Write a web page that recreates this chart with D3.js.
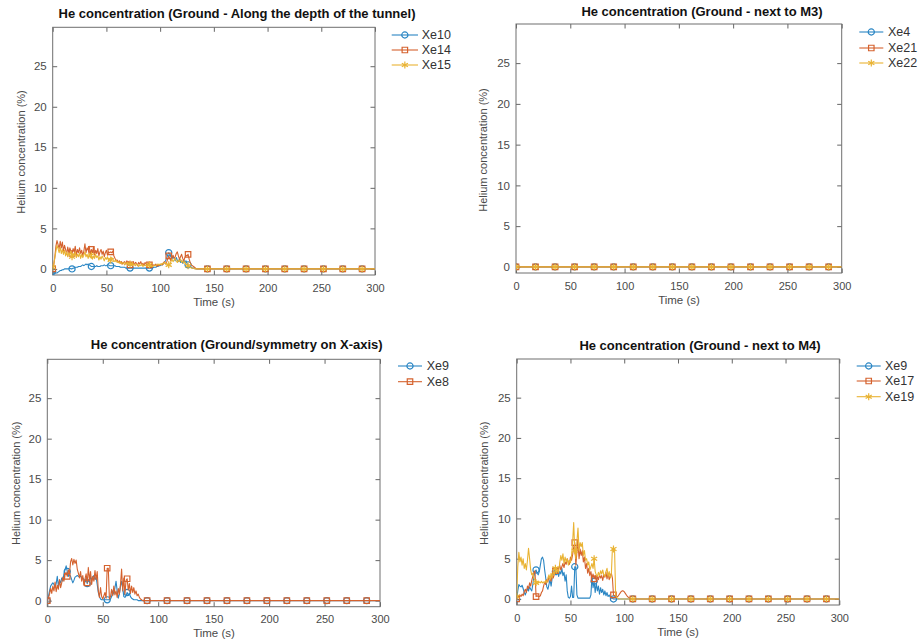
<!DOCTYPE html>
<html><head><meta charset="utf-8">
<script src="https://cdn.jsdelivr.net/npm/d3@7"></script>
<style>
body{margin:0;background:#fff}
svg{display:block}
text{font-family:"Liberation Sans",Arial,Helvetica,sans-serif}
</style>
</head><body>
<svg id="c" width="919" height="639"></svg>
<script>
// ---------- shared axis data ----------
const X_TICKS = [0, 50, 100, 150, 200, 250, 300];
const Y_TICKS = [0, 5, 10, 15, 20, 25];
const X_DOMAIN = [0, 300];
const Y_DOMAIN = [-0.75, 29.8];
const STEP = 1;          // sampling interval of the value arrays (s)
const T_END = 300;       // last recorded time (s)
const TAIL_VALUE = 0;    // concentration after the plume has passed
const MARKER_TIMES = [0, 18, 36, 54, 72, 90, 108, 126, 144, 162, 180, 198, 216, 234, 252, 270, 288];
const X_LABEL = "Time (s)";
const Y_LABEL = "Helium concentration (%)";
const TITLES = [
  "He concentration (Ground - Along the depth of the tunnel)",
  "He concentration (Ground - next to M3)",
  "He concentration (Ground/symmetry on X-axis)",
  "He concentration (Ground - next to M4)"
];

// ---------- panel 1 ----------
const p1Names = ["Xe10", "Xe14", "Xe15"];
const p1Xe10 = [-0.3,-0.4,-0.5,-0.5,-0.5,-0.4,-0.3,-0.2,-0.2,-0.1,
 -0.1,0,0,0,0,0,0.1,0,0,0.1,
 0.1,0.2,0.2,0.2,0.3,0.3,0.3,0.4,0.5,0.4,
 0.5,0.6,0.5,0.6,0.5,0.4,0.3,0.3,0.3,0.3,
 0.3,0.4,0.3,0.3,0.3,0.4,0.4,0.4,0.5,0.4,
 0.4,0.5,0.5,0.4,0.4,0.4,0.4,0.4,0.4,0.3,
 0.3,0.3,0.3,0.2,0.2,0.2,0.2,0.2,0.1,0.1,
 0.1,0.1,0.1,0.1,0.1,0.1,0.1,0.1,0.1,0.1,
 0.1,0.1,0.1,0.1,0.1,0.1,0.1,0.1,0.1,0.1,
 0.1,0.1,0.1,0.1,0.2,0.2,0.2,0.3,0.3,0.4,
 0.4,0.5,0.5,0.6,0.8,1.0,1.3,1.7,2.0,1.8,
 1.5,1.2,1.6,1.3,1.0,1.4,1.1,0.9,1.2,0.8,
 1.0,0.7,1.1,0.8,1.0,0.7,0.5,0.3,0.2,0.2,
 0.1,0.1,0.1,0,0,0];
const p1Xe14 = [0,0.5,1.5,2.8,3.5,3.0,2.5,3.4,2.6,3.3,
 2.2,2.9,2.4,1.8,2.7,2.0,2.6,2.2,1.9,2.5,
 2.1,2.8,1.7,2.4,2.0,2.6,1.9,2.3,1.6,2.2,
 3.1,2.0,2.6,2.3,2.8,1.8,2.4,2.0,2.7,1.7,
 2.3,1.9,2.5,1.6,2.1,2.4,1.8,2.2,1.5,2.0,
 2.3,1.7,2.1,2.0,2.1,2.0,2.2,1.6,1.3,1.0,
 1.1,0.8,1.0,0.7,0.9,0.6,0.8,0.9,0.6,1.0,
 0.7,0.9,0.5,0.8,0.6,0.9,0.5,0.8,0.7,0.4,
 0.8,0.6,0.9,0.5,0.7,0.4,0.8,0.6,0.3,0.7,
 0.5,0.4,0.6,0.3,0.5,0.4,0.6,0.3,0.5,0.4,
 0.5,0.6,0.5,0.7,0.9,0.6,0.8,1.2,1.6,1.3,
 1.0,1.4,1.7,1.3,1.5,1.9,2.1,1.6,1.2,1.5,
 1.8,1.3,1.0,1.4,1.7,1.6,1.8,1.2,0.8,0.5,
 0.4,0.3,0.2,0.1,0,0];
const p1Xe15 = [0.2,0.6,1.4,2.2,2.9,2.5,2.0,2.7,1.9,2.4,
 1.8,2.3,1.6,2.1,1.5,2.0,1.7,2.2,1.5,1.9,
 1.6,2.1,1.4,1.8,1.5,2.0,1.3,1.8,1.4,1.7,
 2.1,1.5,1.8,1.3,1.9,1.4,1.7,1.2,1.6,1.3,
 1.8,1.4,1.6,1.1,1.5,1.2,1.6,1.3,1.0,1.4,
 1.2,1.5,1.0,1.3,1.1,1.4,1.2,1.0,0.9,1.1,
 0.8,0.9,0.7,0.9,0.6,0.8,0.7,0.5,0.8,0.6,
 0.7,0.5,0.6,0.4,0.7,0.5,0.6,0.4,0.6,0.5,
 0.3,0.5,0.4,0.6,0.3,0.5,0.4,0.5,0.3,0.4,
 0.5,0.3,0.4,0.3,0.4,0.5,0.4,0.5,0.6,0.5,
 0.6,0.5,0.7,0.6,0.8,0.7,0.6,0.5,0.5,0.6,
 0.9,1.2,0.9,1.1,1.3,1.0,0.8,1.1,0.9,1.2,
 0.8,1.0,0.7,0.9,0.6,0.5,0.4,0.3,0.2,0.1,
 0.1,0.1,0,0,0,0];

// ---------- panel 2 ----------
const p2Names = ["Xe4", "Xe21", "Xe22"];
const p2Xe4 = [0, 0];
const p2Xe21 = [0, 0];
const p2Xe22 = [0, 0];

// ---------- panel 3 ----------
const p3Names = ["Xe9", "Xe8"];
const p3Xe9 = [0,0.5,1.2,1.8,2.0,2.2,2.0,1.6,2.1,3.0,
 1.8,2.5,2.2,2.8,2.4,3.3,3.8,4.3,3.6,3.0,
 3.2,3.0,2.6,2.2,2.5,2.9,3.0,3.1,3.0,2.9,
 3.0,2.9,2.8,2.6,2.3,2.8,2.1,2.6,2.3,3.0,
 2.5,2.9,3.1,2.6,2.9,2.0,1.0,0.5,0.2,0.1,
 0.1,0.1,0.1,0.1,0.1,0.1,0.1,0.2,0.5,1.2,
 0.8,1.6,2.4,1.2,0.3,0.8,1.8,2.4,1.5,0.5,
 0.4,0.6,1.0,0.7,0.9,0.5,0.3,0.2,0.1,0.1,
 0.1,0.1,0,0,0,0];
const p3Xe8 = [0,0.3,0.8,1.5,0.9,1.8,1.2,2.3,1.1,1.9,
 1.4,2.6,1.6,2.2,2.9,2.4,3.2,3.5,3.0,3.8,
 3.3,4.8,5.2,4.4,5.1,4.6,5.0,3.9,3.4,2.8,
 3.6,2.4,3.1,1.9,2.7,3.3,2.2,4.1,2.5,3.6,
 2.0,3.0,2.4,3.7,2.6,3.6,1.2,0.4,1.6,0.5,
 0.2,0.6,1.0,0.3,4.0,4.0,0.2,0.5,1.4,0.6,
 1.8,0.7,1.2,0.4,1.5,0.8,2.0,3.9,1.2,2.8,
 0.8,2.5,2.7,1.3,2.1,0.9,1.8,1.0,1.6,0.8,
 1.2,0.6,0.8,0.4,0.2,0.1,0,0];

// ---------- panel 4 ----------
const p4Names = ["Xe9", "Xe17", "Xe19"];
const p4Xe9 = [0,1.0,1.8,1.6,1.5,1.7,1.3,0.8,0.5,0.9,
 1.3,1.0,1.5,1.2,1.0,1.8,2.8,3.4,3.6,3.2,
 3.0,3.4,4.2,5.0,5.2,4.8,3.6,2.6,1.5,1.2,
 1.8,2.4,1.6,2.6,3.2,3.6,3.4,3.0,3.5,2.8,
 3.4,3.1,3.8,2.9,3.3,2.2,3.0,1.0,0.2,0.1,
 0.3,1.6,0.2,0.2,4.0,4.0,0.5,0.1,0.1,0.1,
 0.1,0.1,0.1,0.1,0.1,0.1,0.1,0.1,0.1,0.5,
 2.8,1.4,2.2,0.8,2.0,1.0,1.6,0.6,1.4,0.8,
 1.2,0.5,1.0,0.4,0.8,0.3,0.5,0.2,0.1,0.1,
 0,0,0];
const p4Xe17 = [0,0.3,0.2,0.5,0.3,0.6,0.4,0.9,1.2,0.8,
 1.6,1.3,2.0,1.6,2.3,2.8,3.3,3.5,0.3,0.4,
 0.3,0.3,0.4,0.8,1.0,1.6,2.1,1.8,2.4,2.1,
 2.8,2.5,2.2,3.0,2.6,3.1,3.5,3.9,3.4,3.8,
 4.2,3.6,4.0,4.4,3.9,4.6,4.3,5.0,4.6,4.3,
 5.2,4.8,5.5,6.4,7.0,4.2,5.8,6.8,5.0,6.2,
 5.4,6.0,4.6,5.2,3.8,4.4,3.2,3.8,2.9,3.4,
 2.6,3.1,2.5,2.9,2.2,2.8,2.4,3.0,2.6,2.9,
 2.3,3.0,2.7,3.3,2.5,3.2,2.4,2.9,3.2,2.6,
 0.5,0.4,0.4,0.3,0.3,0.5,0.7,0.9,1.0,1.0,
 0.9,0.7,0.5,0.3,0.2,0.1,0.1,0,0];
const p4Xe19 = [0.3,4.0,5.8,4.6,5.2,4.2,5.0,3.8,4.4,3.6,
 4.8,6.3,5.0,3.6,3.0,3.2,2.6,2.3,2.0,2.2,
 2.0,2.1,2.0,2.2,2.0,2.1,2.0,2.3,2.0,2.6,
 3.0,2.4,3.2,2.6,3.4,3.0,3.8,3.2,3.6,3.3,
 4.5,5.4,4.8,5.6,4.4,5.2,4.6,5.0,4.2,4.8,
 4.5,5.4,7.0,9.5,6.0,5.0,7.2,8.8,6.0,7.0,
 6.5,7.0,5.4,6.0,4.8,5.0,4.2,4.6,3.6,4.0,
 4.4,3.8,5.0,3.4,3.0,2.8,3.3,2.9,3.5,3.1,
 3.6,3.0,2.8,3.4,3.8,2.8,3.4,2.6,3.0,6.3,
 6.2,6.2,0.5,0.2,0.1,0];

// ---------- styling / layout ----------
const COLORS = ["#2a86c4", "#d5622e", "#e9b333"];
const SYMBOLS = [d3.symbolCircle, d3.symbolSquare, d3.symbolAsterisk];
const SYM_SIZE = [30, 30, 34];

const panels = [
  { names: p1Names, series: [p1Xe10, p1Xe14, p1Xe15], title: TITLES[0],
    rect: {l: 52.7, r: 375, t: 27.3, b: 275}, titlePos: [237, 18],
    xlabX: 214, ylab: [20.7, 152],
    leg: {x0: 391.7, x1: 418, tx: 421.7, ys: [35, 50, 65]} },
  { names: p2Names, series: [p2Xe4, p2Xe21, p2Xe22], title: TITLES[1], fullSpan: true,
    rect: {l: 516, r: 841.7, t: 24, b: 273}, titlePos: [702, 16],
    xlabX: 679, ylab: [483.3, 150],
    leg: {x0: 859.3, x1: 883.3, tx: 888, ys: [32, 48, 63]} },
  { names: p3Names, series: [p3Xe9, p3Xe8], title: TITLES[2],
    rect: {l: 47.3, r: 380, t: 359.3, b: 606.7}, titlePos: [236.7, 349],
    xlabX: 214, ylab: [15.7, 483.3],
    leg: {x0: 398, x1: 422, tx: 426.7, ys: [366, 381.7]} },
  { names: p4Names, series: [p4Xe9, p4Xe17, p4Xe19], title: TITLES[3],
    rect: {l: 516.7, r: 839.3, t: 359, b: 605}, titlePos: [700, 350],
    xlabX: 678, ylab: [484, 483.3],
    leg: {x0: 856.7, x1: 880.7, tx: 885, ys: [366, 381, 396.7]} }
];

const svg = d3.select("#c");
svg.append("rect").attr("width", 919).attr("height", 639).attr("fill", "#fff");

function toPoints(vals, fullSpan) {
  let pts;
  if (fullSpan) {
    pts = [[X_DOMAIN[0], vals[0]], [T_END, vals[vals.length - 1]]];
  } else {
    pts = vals.map((v, i) => [i * STEP, v]);
    pts.push([T_END, TAIL_VALUE]);
  }
  return pts;
}
function valueAt(pts, t) {
  const i = d3.bisector(d => d[0]).left(pts, t);
  if (i < pts.length && pts[i][0] === t) return pts[i][1];
  const a = pts[i - 1], b = pts[i];
  return a[1] + (b[1] - a[1]) * (t - a[0]) / (b[0] - a[0]);
}

panels.forEach(p => {
  const R = p.rect;
  const x = d3.scaleLinear().domain(X_DOMAIN).range([R.l, R.r]);
  const y = d3.scaleLinear().domain(Y_DOMAIN).range([R.b, R.t]);
  const g = svg.append("g");

  const cid = "clip" + Math.round(R.l) + "_" + Math.round(R.t);
  svg.append("clipPath").attr("id", cid).append("rect")
    .attr("x", R.l).attr("y", R.t).attr("width", R.r - R.l).attr("height", R.b - R.t);

  const tickCol = "#666";
  const bottom = g.append("g").attr("transform", `translate(0,${R.b})`)
    .call(d3.axisBottom(x).tickValues(X_TICKS).tickSizeInner(-4.5).tickSizeOuter(0).tickPadding(9));
  const top = g.append("g").attr("transform", `translate(0,${R.t})`)
    .call(d3.axisTop(x).tickValues(X_TICKS).tickSizeInner(-4.5).tickSizeOuter(0).tickFormat(""));
  const left = g.append("g").attr("transform", `translate(${R.l},0)`)
    .call(d3.axisLeft(y).tickValues(Y_TICKS).tickSizeInner(-4.5).tickSizeOuter(0).tickPadding(6));
  const right = g.append("g").attr("transform", `translate(${R.r},0)`)
    .call(d3.axisRight(y).tickValues(Y_TICKS).tickSizeInner(-4.5).tickSizeOuter(0).tickFormat(""));
  [bottom, top, left, right].forEach(a => {
    a.select(".domain").remove();
    a.selectAll("line").attr("stroke", tickCol);
    a.selectAll("text").attr("fill", "#4a4a4a").style("font-size", "11.5px")
      .style("font-family", '"Liberation Sans",Arial,sans-serif');
  });
  bottom.selectAll("text").style("font-size", "11px");
  g.append("rect").attr("x", R.l).attr("y", R.t).attr("width", R.r - R.l).attr("height", R.b - R.t)
    .attr("fill", "none").attr("stroke", "#6e6e6e").attr("stroke-width", 1);

  const line = d3.line().x(d => x(d[0])).y(d => y(d[1]));
  const plot = g.append("g").attr("clip-path", `url(#${cid})`);
  p.series.forEach((vals, si) => {
    const pts = toPoints(vals, p.fullSpan);
    plot.append("path").datum(pts).attr("d", line)
      .attr("fill", "none").attr("stroke", COLORS[si]).attr("stroke-width", 1.1)
      .attr("stroke-linejoin", "round");
    const sym = d3.symbol().type(SYMBOLS[si]).size(SYM_SIZE[si]);
    plot.selectAll(null).data(MARKER_TIMES).enter().append("path")
      .attr("d", sym)
      .attr("transform", t => `translate(${x(t)},${y(valueAt(pts, t))})`)
      .attr("fill", si === 2 ? COLORS[si] : "none")
      .attr("fill-opacity", 0.6)
      .attr("stroke", COLORS[si]).attr("stroke-width", 1.2);
  });

  g.append("text").attr("x", p.titlePos[0]).attr("y", p.titlePos[1])
    .attr("text-anchor", "middle").style("font-size", "13px").style("font-weight", "bold")
    .attr("fill", "#111").text(p.title);
  g.append("text").attr("x", p.xlabX).attr("y", R.b + 30.5)
    .attr("text-anchor", "middle").style("font-size", "11.5px").attr("fill", "#4a4a4a").text(X_LABEL);
  g.append("text").attr("transform", `translate(${p.ylab[0]},${p.ylab[1]}) rotate(-90)`)
    .attr("text-anchor", "middle").attr("dy", "0.35em")
    .style("font-size", "11px").attr("fill", "#4a4a4a").text(Y_LABEL);

  const L = p.leg;
  p.names.forEach((name, si) => {
    const yy = L.ys[si];
    g.append("line").attr("x1", L.x0).attr("x2", L.x1).attr("y1", yy).attr("y2", yy)
      .attr("stroke", COLORS[si]).attr("stroke-width", 1.1);
    g.append("path").attr("d", d3.symbol().type(SYMBOLS[si]).size(SYM_SIZE[si]))
      .attr("transform", `translate(${(L.x0 + L.x1) / 2},${yy})`)
      .attr("fill", si === 2 ? COLORS[si] : "none").attr("fill-opacity", 0.6)
      .attr("stroke", COLORS[si]).attr("stroke-width", 1.2);
    g.append("text").attr("x", L.tx).attr("y", yy).attr("dy", "0.35em")
      .style("font-size", "12.5px").attr("fill", "#333").text(name);
  });
});
</script>
</body></html>
